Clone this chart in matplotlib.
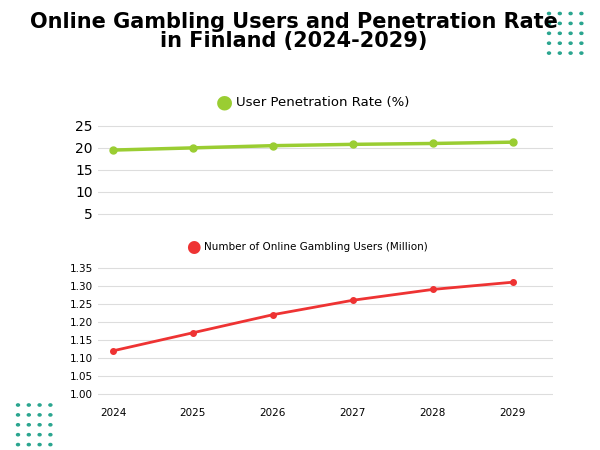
import matplotlib
matplotlib.use("Agg")
import matplotlib.pyplot as plt

years = ["2024", "2025", "2026", "2027", "2028", "2029"]
penetration = [19.5, 20.0, 20.5, 20.8, 21.0, 21.3]
users = [1.12, 1.17, 1.22, 1.26, 1.29, 1.31]
pen_ticks = [5, 10, 15, 20, 25]
user_ticks = [1.00, 1.05, 1.10, 1.15, 1.20, 1.25, 1.30, 1.35]

fig = plt.figure(figsize=(6, 4.5), dpi=100)
fig.text(0.49, 0.93, "Online Gambling Users and Penetration Rate\nin Finland (2024-2029)",
         ha="center", va="center", fontsize=15, fontweight="heavy", family="DejaVu Sans",
         linespacing=1.0)

# decoration dots
for (x0, y0) in [(0.915, 0.97), (0.03, 0.1)]:
    for i in range(4):
        for j in range(5):
            fig.patches.append(plt.Circle((x0 + i * 0.018, y0 - j * 0.022), 0.0025,
                                          transform=fig.transFigure, color="#2aa58f"))

grid = "#dddddd"
x = range(len(years))
ax1 = fig.add_axes([0.163, 0.505, 0.758, 0.23])
ax1.plot(x, penetration, color="#9acd32", lw=2.5, marker="o", ms=5)
ax1.set_ylim(3, 26.5)
ax1.set_yticks(pen_ticks)
ax1.set_xlim(-0.19, 5.5)
ax1.set_xticks([])
ax1.grid(axis="y", color=grid)
for s in ax1.spines.values():
    s.set_visible(False)
ax1.tick_params(axis="y", length=0, labelsize=10)
fig.text(0.36, 0.773, "●", color="#9acd32", fontsize=14, va="center")
fig.text(0.393, 0.773, "User Penetration Rate (%)", fontsize=9.5, va="center")

ax2 = fig.add_axes([0.163, 0.104, 0.758, 0.309])
ax2.plot(x, users, color="#ee3333", lw=2, marker="o", ms=4)
ax2.set_ylim(0.975, 1.36)
ax2.set_yticks(user_ticks)
ax2.set_yticklabels([f"{t:.2f}" for t in user_ticks])
ax2.set_xlim(-0.19, 5.5)
ax2.set_xticks(list(x))
ax2.set_xticklabels(years)
ax2.grid(axis="y", color=grid)
for s in ax2.spines.values():
    s.set_visible(False)
ax2.tick_params(length=0, labelsize=7.5)
fig.text(0.31, 0.452, "●", color="#ee3333", fontsize=12, va="center")
fig.text(0.34, 0.452, "Number of Online Gambling Users (Million)", fontsize=7.5, va="center")

fig.savefig("out.png", dpi=100)
